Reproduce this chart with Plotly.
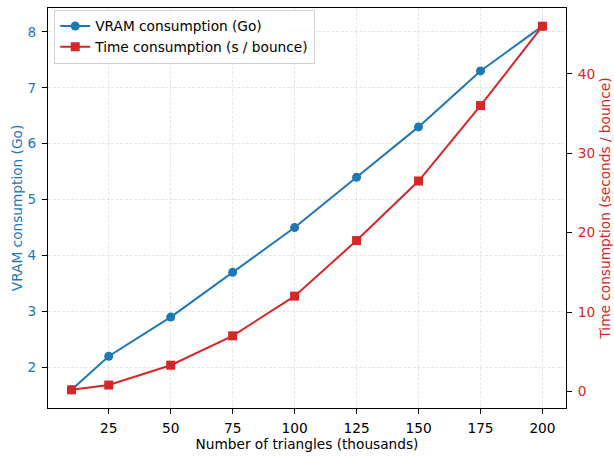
import plotly.graph_objects as go

triangles = [10, 25, 50, 75, 100, 125, 150, 175, 200]
vram_go = [1.6, 2.2, 2.9, 3.7, 4.5, 5.4, 6.3, 7.3, 8.1]
time_s = [0.2, 0.8, 3.3, 7.0, 12.0, 19.0, 26.5, 36.0, 46.0]
x_ticks = [25, 50, 75, 100, 125, 150, 175, 200]

BLUE = "#1f77b4"
RED = "#d62728"
GRID = "rgba(176,176,176,0.3)"
FONT = "DejaVu Sans"
DASH = "3px,1.5px"
FS = 13.7

fig = go.Figure()
fig.add_trace(go.Scatter(
    x=triangles, y=vram_go, name="VRAM consumption (Go)",
    mode="lines+markers", line=dict(color=BLUE, width=2),
    marker=dict(symbol="circle", size=9, color=BLUE), yaxis="y"))
fig.add_trace(go.Scatter(
    x=triangles, y=time_s, name="Time consumption (s / bounce)",
    mode="lines+markers", line=dict(color=RED, width=2),
    marker=dict(symbol="square", size=9, color=RED), yaxis="y2"))

pad_v = (max(vram_go) - min(vram_go)) * 0.05
pad_t = (max(time_s) - min(time_s)) * 0.05
pad_x = (max(triangles) - min(triangles)) * 0.05

fig.update_layout(
    width=614, height=456,
    margin=dict(l=48, r=48, t=8, b=48, autoexpand=False),
    paper_bgcolor="white", plot_bgcolor="white",
    font=dict(family=FONT, size=FS, color="black"),
    showlegend=True,
    legend=dict(x=0.012, y=0.996, xanchor="left", yanchor="top",
                bgcolor="rgba(255,255,255,0.8)", bordercolor="#d0d0d0", borderwidth=1,
                font=dict(size=FS), tracegroupgap=0, itemwidth=30),
    xaxis=dict(
        range=[min(triangles) - pad_x, max(triangles) + pad_x],
        tickvals=x_ticks, ticks="outside", ticklen=5, tickcolor="black",
        tickfont=dict(size=FS),
        showline=True, linecolor="black", linewidth=1, mirror=True,
        showgrid=True, gridcolor=GRID, griddash=DASH, gridwidth=1,
        zeroline=False, ticklabelstandoff=3, automargin=False,
        title=dict(text="Number of triangles (thousands)", standoff=1, font=dict(size=FS)),
    ),
    yaxis=dict(
        range=[min(vram_go) - pad_v, max(vram_go) + pad_v],
        dtick=1, ticks="outside", ticklen=5, tickcolor="black",
        tickfont=dict(color=BLUE, size=FS),
        showline=True, linecolor="black", linewidth=1,
        showgrid=True, gridcolor=GRID, griddash=DASH, gridwidth=1,
        zeroline=False, ticklabelstandoff=3, automargin=False,
        title=dict(text="VRAM consumption (Go)", font=dict(color=BLUE, size=FS), standoff=1),
    ),
    yaxis2=dict(
        range=[min(time_s) - pad_t, max(time_s) + pad_t],
        dtick=10, ticks="outside", ticklen=5, tickcolor="black",
        tickfont=dict(color=RED, size=FS),
        overlaying="y", side="right",
        showline=True, linecolor="black", linewidth=1,
        showgrid=False, zeroline=False, ticklabelstandoff=3, automargin=False,
        title=dict(text="Time consumption (seconds / bounce)", font=dict(color=RED, size=FS), standoff=6),
    ),
)

fig.write_html("out.html")
